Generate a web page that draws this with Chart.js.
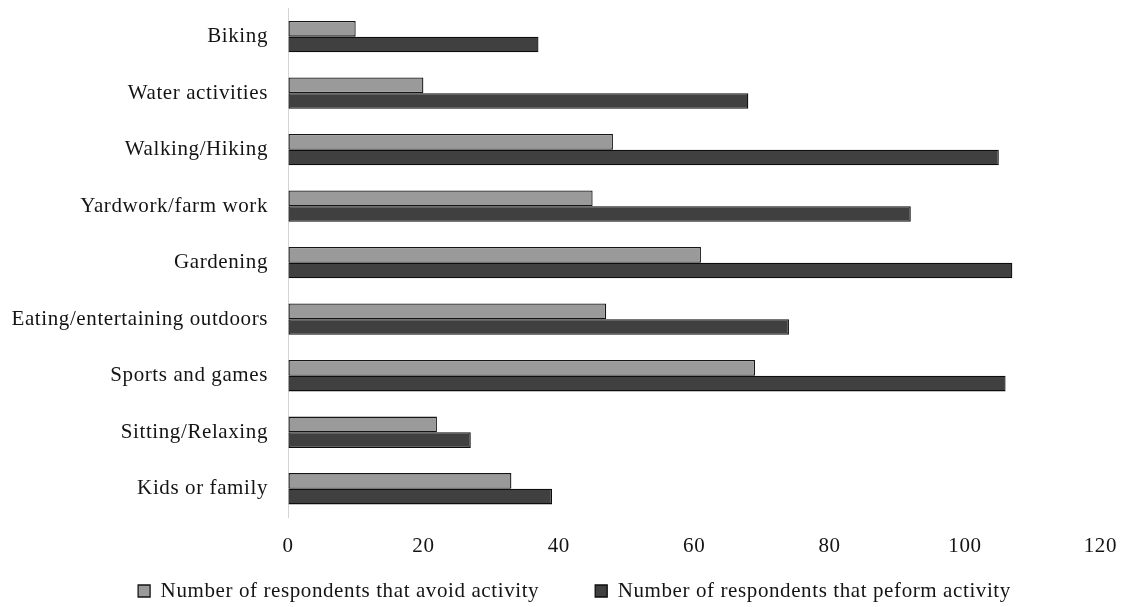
<!DOCTYPE html>
<html>
<head>
<meta charset="utf-8">
<script src="https://cdn.jsdelivr.net/npm/chart.js@4.4.1/dist/chart.umd.min.js"></script>
<style>
  html, body { margin: 0; padding: 0; background: #ffffff; }
  #wrap { width: 1122px; height: 607px; position: relative; }
</style>
</head>
<body>
<div id="wrap"><canvas id="c" width="1122" height="607"></canvas></div>
<script>
// Outdoor activities, respondents who avoid vs. perform each one
const activities = [
  'Biking',
  'Water activities',
  'Walking/Hiking',
  'Yardwork/farm work',
  'Gardening',
  'Eating/entertaining outdoors',
  'Sports and games',
  'Sitting/Relaxing',
  'Kids or family'
];
const avoidCounts   = [10, 20, 48, 45, 61, 47, 69, 22, 33];
const performCounts = [37, 68, 105, 92, 107, 74, 106, 27, 39];
const seriesNames = [
  'Number of respondents that avoid activity',
  'Number of respondents that peform activity'
];
const xTicks = [0, 20, 40, 60, 80, 100, 120];

const serif = "'Liberation Serif', 'DejaVu Serif', serif";
const textColor = '#141414';

// slightly tracked-out serif text throughout
const spacing = {
  id: 'spacing',
  beforeLayout(chart) { chart.ctx.letterSpacing = '0.6px'; },
  beforeDraw(chart) { chart.ctx.letterSpacing = '0.6px'; }
};

// legend: wide gap between the two entries, but kept in a short strip below the axis
const legendPlacement = {
  id: 'legendPlacement',
  afterInit(chart) {
    const lg = chart.legend;
    if (!lg) return;
    const baseFit = lg.fit;
    lg.fit = function () {
      baseFit.call(this);
      this.height = 50;
    };
  },
  afterLayout(chart) {
    const lg = chart.legend;
    if (!lg) return;
    lg.top = lg.bottom - 82.5;
    lg.height = lg.bottom - lg.top;
    lg.left += 13.5; lg.right += 13.5;
  }
};

new Chart(document.getElementById('c'), {
  type: 'bar',
  data: {
    labels: activities,
    datasets: [
      {
        label: seriesNames[0],
        data: avoidCounts,
        backgroundColor: '#9a9a9a',
        borderColor: '#151515',
        borderWidth: 1.3,
        borderSkipped: false,
        categoryPercentage: 0.554,
        barPercentage: 1.0
      },
      {
        label: seriesNames[1],
        data: performCounts,
        backgroundColor: '#404040',
        borderColor: '#0d0d0d',
        borderWidth: 1.3,
        borderSkipped: false,
        categoryPercentage: 0.554,
        barPercentage: 1.0
      }
    ]
  },
  plugins: [spacing, legendPlacement],
  options: {
    indexAxis: 'y',
    responsive: false,
    animation: false,
    layout: { padding: { left: 0, right: 0, top: 8, bottom: 0 } },
    plugins: {
      tooltip: { enabled: false },
      legend: {
        position: 'bottom',
        labels: {
          font: { family: serif, size: 21 },
          color: textColor,
          boxWidth: 12,
          boxHeight: 12,
          padding: 56
        }
      }
    },
    scales: {
      x: {
        min: 0,
        max: 120,
        afterBuildTicks(scale) { scale.ticks = xTicks.map(v => ({ value: v })); },
        afterFit(scale) { scale.height = 40; },
        grid: {
          display: true, drawOnChartArea: false, drawTicks: true,
          tickLength: 12, color: 'rgba(0,0,0,0)'
        },
        border: { display: false },
        ticks: {
          font: { family: serif, size: 21 },
          color: textColor,
          padding: 5
        }
      },
      y: {
        afterFit(scale) { scale.width = 288; },
        grid: {
          display: true, drawOnChartArea: false, drawTicks: true,
          tickLength: 20, color: 'rgba(0,0,0,0)'
        },
        border: { display: true, color: '#d4d4d4', width: 1 },
        ticks: {
          font: { family: serif, size: 21, lineHeight: 0.8 },
          color: textColor,
          padding: 0
        }
      }
    }
  }
});
</script>
</body>
</html>
